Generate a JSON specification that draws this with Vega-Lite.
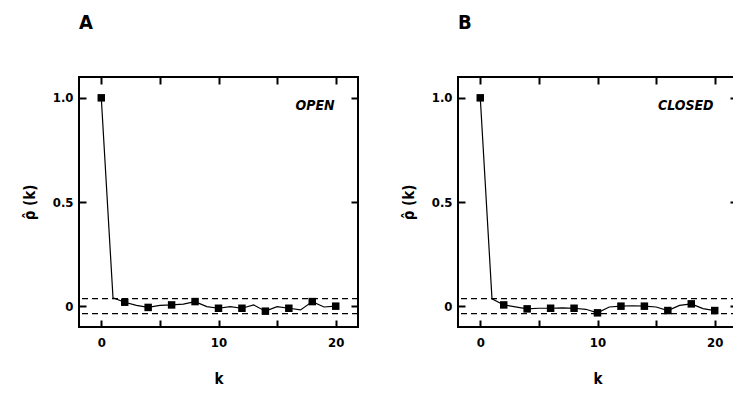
{
  "$schema": "https://vega.github.io/schema/vega-lite/v6.json",
  "padding": {"left": 21, "top": 12, "right": 0, "bottom": 0},
  "spacing": 40,
  "config": {
    "view": {"stroke": "black", "strokeWidth": 2},
    "font": "'Liberation Sans Narrow', 'DejaVu Sans Condensed', 'Liberation Sans', sans-serif",
    "axis": {"labelFont": "'Liberation Sans Narrow', 'DejaVu Sans Condensed', 'Liberation Sans', sans-serif", "labelFontWeight": "bold", "labelFontSize": 13, "labelColor": "black", "titleFont": "'Liberation Sans Narrow', 'DejaVu Sans Condensed', 'Liberation Sans', sans-serif", "titleFontWeight": "bold", "titleFontSize": 15, "titleColor": "black", "tickColor": "black", "tickWidth": 2, "grid": false, "domain": false},
    "title": {"font": "'Liberation Sans Narrow', 'DejaVu Sans Condensed', 'Liberation Sans', sans-serif", "fontWeight": "bold", "fontSize": 20, "color": "black"}
  },
  "datasets": {
    "bands": [{"c": 0.036}, {"c": -0.036}],
    "A": [
      {"k": 0, "r": 1.0}, {"k": 1, "r": 0.04}, {"k": 2, "r": 0.019}, {"k": 3, "r": 0.004},
      {"k": 4, "r": -0.006}, {"k": 5, "r": 0.004}, {"k": 6, "r": 0.006}, {"k": 7, "r": 0.01},
      {"k": 8, "r": 0.022}, {"k": 9, "r": -0.002}, {"k": 10, "r": -0.01}, {"k": 11, "r": -0.002},
      {"k": 12, "r": -0.01}, {"k": 13, "r": 0.006}, {"k": 14, "r": -0.024}, {"k": 15, "r": -0.002},
      {"k": 16, "r": -0.01}, {"k": 17, "r": -0.018}, {"k": 18, "r": 0.022}, {"k": 19, "r": -0.004},
      {"k": 20, "r": 0.0}
    ],
    "B": [
      {"k": 0, "r": 1.0}, {"k": 1, "r": 0.035}, {"k": 2, "r": 0.006}, {"k": 3, "r": -0.003},
      {"k": 4, "r": -0.013}, {"k": 5, "r": -0.01}, {"k": 6, "r": -0.01}, {"k": 7, "r": -0.008},
      {"k": 8, "r": -0.01}, {"k": 9, "r": -0.015}, {"k": 10, "r": -0.032}, {"k": 11, "r": -0.004},
      {"k": 12, "r": 0.0}, {"k": 13, "r": 0.002}, {"k": 14, "r": 0.0}, {"k": 15, "r": -0.004},
      {"k": 16, "r": -0.021}, {"k": 17, "r": 0.004}, {"k": 18, "r": 0.011}, {"k": 19, "r": -0.012},
      {"k": 20, "r": -0.021}
    ],
    "labA": [{"k": 19.9, "r": 0.96, "t": "OPEN"}],
    "labB": [{"k": 19.9, "r": 0.96, "t": "CLOSED"}]
  },
  "hconcat": [
    {
      "width": 279, "height": 250,
      "title": {"text": "A", "anchor": "start", "frame": "group", "offset": 43},
      "layer": [
        {"data": {"name": "bands"}, "mark": {"type": "rule", "strokeDash": [6, 4], "strokeWidth": 1.3, "color": "black"},
         "encoding": {"y": {"field": "c", "type": "quantitative", "scale": {"domain": [-0.1, 1.1], "nice": false, "zero": false},
           "axis": {"orient": "left", "values": [0, 0.5, 1], "labelExpr": "datum.value == 0 ? '0' : format(datum.value, '.1f')", "tickSize": -7, "labelPadding": 13, "title": "ρ̂ (k)", "titlePadding": 15}}}},
        {"data": {"name": "A"}, "mark": {"type": "line", "color": "black", "strokeWidth": 1.2},
         "encoding": {
           "x": {"field": "k", "type": "quantitative", "scale": {"domain": [-1.9, 21.9], "nice": false, "zero": false},
             "axis": {"orient": "bottom", "values": [0, 5, 10, 15, 20], "labelExpr": "datum.value % 10 == 0 ? datum.label : ''", "tickSize": -7, "labelPadding": 16, "title": "k", "titlePadding": 22}},
           "y": {"field": "r", "type": "quantitative", "axis": {"orient": "right", "values": [0, 0.5, 1], "labels": false, "tickSize": -7, "title": null}}}},
        {"data": {"name": "A"}, "transform": [{"filter": "datum.k % 2 == 0"}],
         "mark": {"type": "square", "size": 56, "color": "black", "opacity": 1, "filled": true},
         "encoding": {
           "x": {"field": "k", "type": "quantitative", "axis": {"orient": "top", "values": [0, 5, 10, 15, 20], "labels": false, "tickSize": -7, "title": null}},
           "y": {"field": "r", "type": "quantitative", "axis": null}}},
        {"data": {"name": "labA"}, "mark": {"type": "text", "align": "right", "baseline": "middle", "fontStyle": "italic", "fontWeight": "bold", "fontSize": 14, "font": "'Liberation Sans Narrow', 'DejaVu Sans Condensed', 'Liberation Sans', sans-serif"},
         "encoding": {"x": {"field": "k", "type": "quantitative", "axis": null}, "y": {"field": "r", "type": "quantitative", "axis": null}, "text": {"field": "t"}}}
      ],
      "resolve": {"axis": {"x": "independent", "y": "independent"}}
    },
    {
      "width": 279, "height": 250,
      "title": {"text": "B", "anchor": "start", "frame": "group", "offset": 43},
      "layer": [
        {"data": {"name": "bands"}, "mark": {"type": "rule", "strokeDash": [6, 4], "strokeWidth": 1.3, "color": "black"},
         "encoding": {"y": {"field": "c", "type": "quantitative", "scale": {"domain": [-0.1, 1.1], "nice": false, "zero": false},
           "axis": {"orient": "left", "values": [0, 0.5, 1], "labelExpr": "datum.value == 0 ? '0' : format(datum.value, '.1f')", "tickSize": -7, "labelPadding": 13, "title": "ρ̂ (k)", "titlePadding": 15}}}},
        {"data": {"name": "B"}, "mark": {"type": "line", "color": "black", "strokeWidth": 1.2},
         "encoding": {
           "x": {"field": "k", "type": "quantitative", "scale": {"domain": [-1.9, 21.9], "nice": false, "zero": false},
             "axis": {"orient": "bottom", "values": [0, 5, 10, 15, 20], "labelExpr": "datum.value % 10 == 0 ? datum.label : ''", "tickSize": -7, "labelPadding": 16, "title": "k", "titlePadding": 22}},
           "y": {"field": "r", "type": "quantitative", "axis": {"orient": "right", "values": [0, 0.5, 1], "labels": false, "tickSize": -7, "title": null}}}},
        {"data": {"name": "B"}, "transform": [{"filter": "datum.k % 2 == 0"}],
         "mark": {"type": "square", "size": 56, "color": "black", "opacity": 1, "filled": true},
         "encoding": {
           "x": {"field": "k", "type": "quantitative", "axis": {"orient": "top", "values": [0, 5, 10, 15, 20], "labels": false, "tickSize": -7, "title": null}},
           "y": {"field": "r", "type": "quantitative", "axis": null}}},
        {"data": {"name": "labB"}, "mark": {"type": "text", "align": "right", "baseline": "middle", "fontStyle": "italic", "fontWeight": "bold", "fontSize": 14, "font": "'Liberation Sans Narrow', 'DejaVu Sans Condensed', 'Liberation Sans', sans-serif"},
         "encoding": {"x": {"field": "k", "type": "quantitative", "axis": null}, "y": {"field": "r", "type": "quantitative", "axis": null}, "text": {"field": "t"}}}
      ],
      "resolve": {"axis": {"x": "independent", "y": "independent"}}
    }
  ]
}
